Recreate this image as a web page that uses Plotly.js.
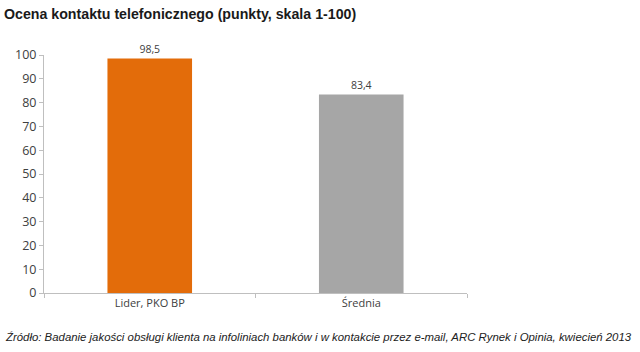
<!DOCTYPE html>
<html><head><meta charset="utf-8">
<script src="https://cdn.plot.ly/plotly-3.0.1.min.js"></script>
<style>html,body{margin:0;padding:0;background:#fff;}#chart{width:640px;height:352px;}</style>
</head><body><div id="chart"></div>
<script>
const categories = ["Lider, PKO BP", "Średnia"];
const values = [98.5, 83.4];
const labels = ["98,5", "83,4"];
const colors = ["#E36C0A", "#A6A6A6"];
const yTicks = [0, 10, 20, 30, 40, 50, 60, 70, 80, 90, 100];

const trace = {
  type: "bar", x: categories, y: values, text: labels,
  textposition: "outside", cliponaxis: false,
  textfont: {family: "Open Sans, sans-serif", size: 10.5, color: "#404040"},
  marker: {color: colors}, width: 0.4, hoverinfo: "none"
};
const layout = {
  width: 640, height: 352,
  margin: {l: 44, r: 173, t: 55, b: 59},
  paper_bgcolor: "#fff", plot_bgcolor: "#fff",
  showlegend: false,
  bargap: 0.6,
  xaxis: {
    type: "category", showline: true, linecolor: "#BFBFBF", linewidth: 1,
    ticks: "outside", tickson: "boundaries", ticklen: 4, tickcolor: "#BFBFBF",
    showgrid: false, tickfont: {family: "Open Sans, sans-serif", size: 11, color: "#404040"},
    range: [-0.5, 1.5]
  },
  yaxis: {
    range: [0, 100], tickvals: yTicks, showline: true, linecolor: "#BFBFBF", linewidth: 1,
    ticks: "outside", ticklen: 4, tickcolor: "#BFBFBF", showgrid: false, zeroline: false,
    tickfont: {family: "Open Sans, sans-serif", size: 12.5, color: "#404040"}
  },
  annotations: [
    {text: "<b>Ocena kontaktu telefonicznego (punkty, skala 1-100)</b>", xref: "paper", yref: "paper",
     x: -42/423, y: 1 + 41/238, xanchor: "left", yanchor: "middle", showarrow: false,
     font: {family: "Liberation Sans, Arial, sans-serif", size: 14.2, color: "#1a1a1a"}},
    {text: "<i>Źródło: Badanie jakości obsługi klienta na infoliniach banków i w kontakcie przez e-mail, ARC Rynek i Opinia, kwiecień 2013</i>",
     xref: "paper", yref: "paper", x: -41/423, y: -(337-293)/238, xanchor: "left", yanchor: "middle", showarrow: false,
     font: {family: "Liberation Sans, Arial, sans-serif", size: 11.4, color: "#222"}}
  ]
};
Plotly.newPlot("chart", [trace], layout, {displayModeBar: false, staticPlot: true});
</script></body></html>
